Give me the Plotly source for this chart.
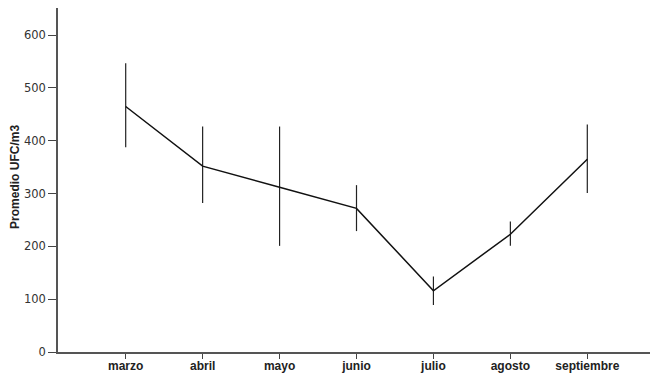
import plotly.graph_objects as go

meses = ["marzo", "abril", "mayo", "junio", "julio", "agosto", "septiembre"]
promedio = [465, 352, 312, 272, 116, 223, 365]
err_sup = [547, 427, 427, 316, 143, 247, 431]
err_inf = [388, 282, 201, 229, 89, 201, 301]

plus = [s - m for s, m in zip(err_sup, promedio)]
minus = [m - i for m, i in zip(promedio, err_inf)]
xs = list(range(len(meses)))

fig = go.Figure()
fig.add_trace(go.Scatter(
    x=xs, y=promedio, mode="lines",
    line=dict(color="#111111", width=1.5),
    error_y=dict(type="data", symmetric=False, array=plus, arrayminus=minus,
                 width=0, thickness=1.2, color="#222222"),
    showlegend=False,
))

fig.update_layout(
    width=658, height=375,
    margin=dict(l=50, r=11, t=0, b=31, autoexpand=False),
    paper_bgcolor="white", plot_bgcolor="white",
    font=dict(family="Liberation Sans, Arial, sans-serif", size=11, color="#333333"),
    xaxis=dict(
        range=[-0.88, 6.88], tickmode="array", tickvals=xs, ticktext=meses,
        showline=True, linecolor="#555555", linewidth=1.5,
        ticks="outside", ticklen=5, tickcolor="#444444", tickwidth=1,
        ticklabelstandoff=-3,
        showgrid=False, zeroline=False, automargin=False,
        tickfont=dict(family="Liberation Sans, Arial, sans-serif", size=12,
                      color="#222222", weight="bold"),
    ),
    yaxis=dict(
        range=[0, 651.5], tickvals=[0, 100, 200, 300, 400, 500, 600],
        showline=True, linecolor="#555555", linewidth=1.5,
        ticks="outside", ticklen=8, tickcolor="#444444", tickwidth=1,
        showgrid=False, zeroline=False, automargin=False,
        tickfont=dict(family="DejaVu Sans, sans-serif", size=11.5, color="#333333"),
    ),
    annotations=[dict(
        text="<b>Promedio UFC/m3</b>", xref="paper", yref="paper",
        x=-0.072, y=0.509, xanchor="center", yanchor="middle", textangle=-90,
        showarrow=False, font=dict(family="Liberation Sans, Arial, sans-serif", size=12, color="#222222"),
    )],
)

fig.write_html("out.html")
